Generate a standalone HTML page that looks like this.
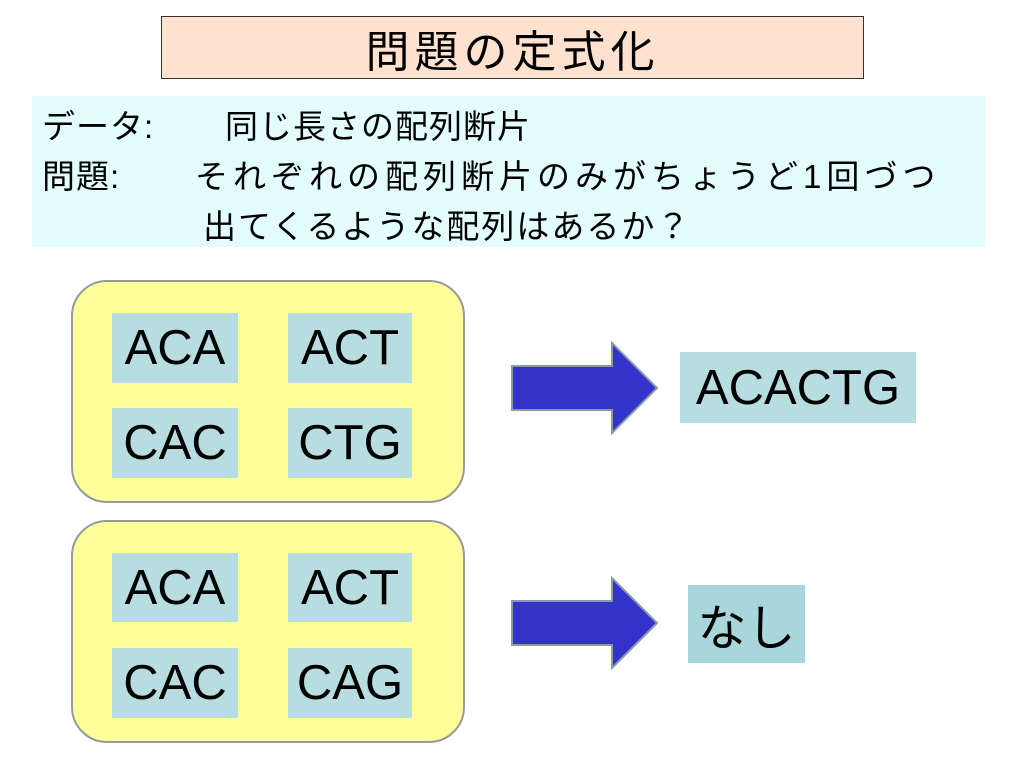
<!DOCTYPE html>
<html><head><meta charset="utf-8"><style>
body{margin:0;width:1024px;height:768px;background:#fff;position:relative;overflow:hidden;font-family:"Liberation Sans","Noto Sans CJK JP",sans-serif}
.a{position:absolute;box-sizing:border-box}
.t{position:absolute;white-space:nowrap;color:#000;font-size:33px;line-height:40px;letter-spacing:1px}
.lb{position:absolute;background:#b8dde0;font-size:49px;display:flex;align-items:center;justify-content:center;box-sizing:border-box}
.y{position:absolute;background:#ffff99;border:2px solid #999;border-radius:36px;box-sizing:border-box}
</style></head><body>
<div class="a" style="left:161px;top:16px;width:703px;height:63px;background:#fde3cf;border:1px solid #333;display:flex;align-items:center;justify-content:center;font-size:44px;letter-spacing:5px">問題の定式化</div>
<div class="a" style="left:32px;top:96px;width:953px;height:151px;background:#e3fcfc"></div>
<div class="t" style="left:42px;top:107px">データ:</div>
<div class="t" style="left:225px;top:107px">同じ長さの配列断片</div>
<div class="t" style="left:42px;top:157px">問題:</div>
<div class="t" style="left:195px;top:157px;letter-spacing:5px">それぞれの配列断片のみがちょうど1回づつ</div>
<div class="t" style="left:203px;top:207px;letter-spacing:2px">出てくるような配列はあるか？</div>

<div class="y" style="left:71px;top:280px;width:394px;height:223px"></div>
<div class="lb" style="left:112px;top:313px;width:126px;height:70px">ACA</div>
<div class="lb" style="left:288px;top:313px;width:124px;height:70px">ACT</div>
<div class="lb" style="left:112px;top:408px;width:126px;height:70px">CAC</div>
<div class="lb" style="left:288px;top:408px;width:124px;height:70px">CTG</div>

<div class="y" style="left:71px;top:520px;width:394px;height:223px"></div>
<div class="lb" style="left:112px;top:553px;width:126px;height:69px">ACA</div>
<div class="lb" style="left:288px;top:553px;width:124px;height:69px">ACT</div>
<div class="lb" style="left:112px;top:648px;width:126px;height:70px">CAC</div>
<div class="lb" style="left:288px;top:648px;width:124px;height:70px">CAG</div>

<svg class="a" style="left:0;top:0" width="1024" height="768">
<polygon points="512,366 612,366 612,343 657,388 612,433 612,410 512,410" fill="#3333cc" stroke="#8899aa" stroke-width="2"/>
<polygon points="512,601 612,601 612,578 657,623 612,668 612,645 512,645" fill="#3333cc" stroke="#8899aa" stroke-width="2"/>
</svg>
<div class="lb" style="left:680px;top:352px;width:236px;height:71px">ACACTG</div>
<div class="lb" style="left:688px;top:585px;width:117px;height:78px;background:#a8d6da">なし</div>
</body></html>
